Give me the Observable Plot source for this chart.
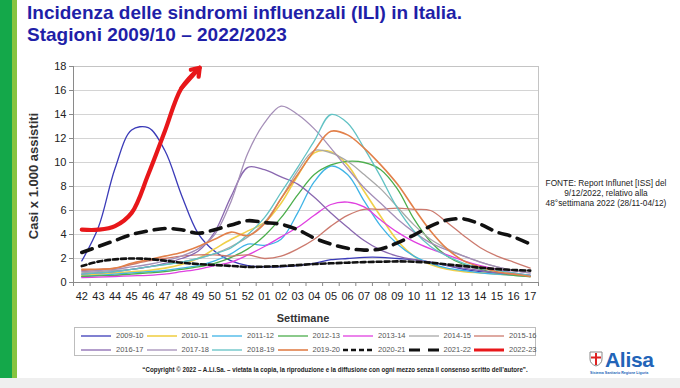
<!DOCTYPE html>
<html><head><meta charset="utf-8">
<script src="https://cdn.jsdelivr.net/npm/d3@7"></script>
<script src="https://cdn.jsdelivr.net/npm/@observablehq/plot@0.6"></script>
<style>
body{margin:0;background:#fff;font-family:"Liberation Sans",Arial,sans-serif;}
#wrap{position:relative;width:680px;height:388px;overflow:hidden;background:#fff;}
#wrap svg.plot{position:absolute;left:0;top:0;}
.abs{position:absolute;white-space:nowrap;}
#title{left:27px;top:2px;font-weight:bold;font-size:19px;line-height:22px;color:#1f1fa8;}
#ylab{left:33px;top:176px;transform:translate(-50%,-50%) rotate(-90deg);font-weight:bold;font-size:13px;color:#333;}
#xlab{left:303px;top:318px;transform:translate(-50%,-50%);font-weight:bold;font-size:11px;color:#333;}
#fonte{left:606px;top:178px;transform:translateX(-50%);font-size:8.3px;line-height:10px;text-align:center;color:#222;}
#legend{left:74px;top:327px;width:462px;height:29px;border:1px solid #bdbdbd;box-sizing:border-box;}
.lent{position:absolute;top:0;height:12px;font-size:7.5px;color:#555;line-height:12px;}
.lent svg{position:absolute;left:0;top:0;}
.lent span{position:absolute;left:36px;top:0;}
#copy{left:335px;top:366px;transform:translateX(-50%) scaleX(0.88);font-size:7px;font-weight:bold;color:#222;}
#bar1{left:0;top:0;width:12px;height:378px;background:#14a84a;}
#bar2{left:12px;top:0;width:5px;height:378px;background:#86c440;}
#strip{left:0;top:378px;width:680px;height:10px;background:#efefef;}
#alisa{left:605px;top:351px;font-weight:bold;font-size:21px;color:#2264b8;line-height:17px;height:17px;letter-spacing:-0.3px;}
#alisasub{left:590px;top:371px;font-size:3.6px;line-height:4px;color:#2264b8;font-weight:bold;}
#shield{left:589px;top:351px;}
</style></head><body><div id="wrap"></div>
<script>
// ---- data ----
const weeks = ["42","43","44","45","46","47","48","49","50","51","52","01","02","03","04","05","06","07","08","09","10","11","12","13","14","15","16","17"];
const yTicks = [0,2,4,6,8,10,12,14,16,18];
const seasons = ["2009-10","2010-11","2011-12","2012-13","2013-14","2014-15","2015-16","2016-17","2017-18","2018-19","2019-20","2020-21","2021-22","2022-23"];

const s0910 = [1.8, 4.6, 9.5, 12.7, 12.9, 11.0, 7.3, 4.1, 2.6, 1.8, 1.4, 1.3, 1.3, 1.4, 1.6, 1.9, 2.0, 2.1, 2.1, 2.0, 1.9, 1.7, 1.4, 1.1, 0.9, 0.8, 0.7, 0.6];
const s1011 = [0.6, 0.7, 0.8, 0.9, 1.0, 1.2, 1.5, 2.0, 2.8, 3.6, 4.3, 5.0, 6.6, 8.9, 10.8, 10.9, 9.8, 7.6, 5.5, 3.5, 2.2, 1.5, 1.1, 0.9, 0.8, 0.7, 0.6, 0.5];
const s1112 = [0.5, 0.6, 0.7, 0.8, 0.9, 1.0, 1.2, 1.4, 1.8, 2.4, 3.2, 3.1, 3.6, 5.8, 8.4, 9.7, 9.0, 6.8, 4.7, 3.2, 2.2, 1.6, 1.2, 1.0, 0.8, 0.7, 0.6, 0.5];
const s1213 = [0.5, 0.55, 0.6, 0.7, 0.8, 0.9, 1.1, 1.3, 1.6, 2.1, 2.8, 3.9, 5.4, 7.3, 9.0, 9.8, 10.1, 10.0, 9.4, 7.8, 5.3, 3.4, 2.2, 1.5, 1.1, 0.8, 0.6, 0.5];
const s1314 = [0.4, 0.45, 0.5, 0.55, 0.6, 0.7, 0.9, 1.1, 1.4, 1.7, 2.3, 3.0, 3.8, 4.6, 5.6, 6.5, 6.7, 6.3, 5.2, 4.2, 3.4, 2.8, 2.3, 1.8, 1.4, 1.1, 0.8, 0.6];
const s1415 = [0.8, 0.9, 1.0, 1.1, 1.3, 1.5, 1.7, 2.0, 2.4, 3.0, 3.8, 5.0, 7.0, 9.3, 11.0, 10.8, 10.1, 9.0, 7.8, 6.3, 4.8, 3.6, 2.8, 2.2, 1.7, 1.3, 1.0, 0.8];
const s1516 = [1.0, 1.1, 1.2, 1.5, 1.8, 2.0, 2.2, 2.3, 2.3, 2.2, 2.3, 2.0, 2.2, 2.8, 3.6, 4.7, 5.6, 6.1, 6.1, 6.2, 6.1, 6.0, 5.0, 3.9, 2.9, 2.2, 1.7, 1.2];
const s1617 = [0.7, 0.8, 0.9, 1.1, 1.3, 1.6, 2.0, 2.6, 4.2, 7.2, 9.6, 9.4, 8.8, 8.2, 7.1, 5.8, 4.6, 3.5, 2.7, 2.2, 1.9, 1.7, 1.4, 1.2, 1.0, 0.8, 0.7, 0.6];
const s1718 = [0.9, 1.0, 1.1, 1.3, 1.5, 1.8, 2.2, 2.8, 4.0, 6.8, 10.8, 13.3, 14.7, 14.0, 12.8, 11.2, 9.5, 7.9, 6.6, 5.3, 4.2, 3.3, 2.7, 2.2, 1.7, 1.3, 1.0, 0.8];
const s1819 = [0.7, 0.8, 0.9, 1.1, 1.3, 1.5, 1.7, 2.0, 2.4, 2.9, 4.0, 5.4, 7.5, 9.6, 11.8, 14.0, 13.3, 11.2, 8.8, 6.2, 4.3, 3.0, 2.2, 1.6, 1.2, 1.0, 0.8, 0.6];
const s1920 = [1.1, 1.1, 1.2, 1.6, 1.9, 2.2, 2.5, 3.0, 3.6, 4.2, 3.9, 4.9, 7.0, 9.0, 11.0, 12.6, 12.3, 11.2, 9.8, 8.2, 6.2, 4.3, 2.8, 1.8, 1.3, 0.9, 0.7, 0.5];
const s2021 = [1.37, 1.74, 1.93, 2.0, 1.96, 1.82, 1.65, 1.54, 1.46, 1.38, 1.3, 1.32, 1.37, 1.45, 1.54, 1.6, 1.65, 1.7, 1.73, 1.76, 1.73, 1.65, 1.5, 1.37, 1.24, 1.12, 1.04, 0.99];
const s2122 = [2.5, 3.0, 3.5, 4.0, 4.3, 4.5, 4.4, 4.1, 4.4, 4.8, 5.15, 5.0, 4.85, 4.4, 3.7, 3.2, 2.85, 2.7, 2.8, 3.3, 3.95, 4.7, 5.2, 5.3, 4.85, 4.2, 3.8, 3.2];
const s2223 = [4.4, 4.4, 4.7, 5.8, 9.0, 12.6, 16.2];
// arrow tip of the 2022-23 curve: position between weeks (index units) and value
const arrowTipPos = 7.1;
const arrowTipValue = 17.9;

const sourceLines = ["FONTE: Report Influnet [ISS] del", "9/12/2022, relativo alla", "48°settimana 2022 (28/11-04/12)"];

// ---- styles (separate from data) ----
const colors = ["#3b3bb8","#f0d04a","#3fb4e6","#4cae4c","#e040e0","#a8a8a8","#cc7a6e","#8a68b0","#a58fb8","#62c2c4","#e2804a","#111","#111","#e8171a"];
const widths = [1.3,1.6,1.3,1.3,1.3,1.3,1.3,1.3,1.3,1.3,1.6,2.6,3.6,4.2];
const dashes = [null,null,null,null,null,null,null,null,null,null,null,"5,3","11,8",null];
const allValues = [s0910,s1011,s1112,s1213,s1314,s1415,s1516,s1617,s1718,s1819,s1920,s2021,s2122,s2223];

const toRows = (arr) => arr.map((v, i) => ({i, v}));

const marks = [
  Plot.gridY(yTicks, {stroke: "#d4d4d4", strokeOpacity: 1}),
  Plot.frame({stroke: "#c4c4c4"}),
  Plot.ruleX([-0.5], {stroke: "#8a8a8a"}),
  Plot.axisY(yTicks, {tickSize: 4, tickPadding: 3, fontSize: 11, fill: "#222", stroke: "#8a8a8a", label: null}),
  Plot.axisX(d3.range(weeks.length), {tickSize: 0, tickPadding: 10, fontSize: 11, fill: "#222", tickFormat: i => weeks[i], label: null}),
  Plot.axisX(d3.range(weeks.length + 1).map(i => i - 0.5), {tickSize: 4, stroke: "#8a8a8a", tickFormat: () => "", label: null}),
  Plot.ruleY([0], {stroke: "#8a8a8a"})
];
for (let k = 0; k < 13; k++) {
  marks.push(Plot.line(toRows(allValues[k]), {x: "i", y: "v", stroke: colors[k], strokeWidth: widths[k], strokeDasharray: dashes[k], curve: "catmull-rom"}));
}
// red 2022-23 with arrow
const redRows = toRows(s2223).concat([{i: arrowTipPos, v: arrowTipValue}]);
marks.push(Plot.line(redRows, {x: "i", y: "v", stroke: colors[13], strokeWidth: widths[13], curve: "catmull-rom"}));
const last = s2223.length - 1;
marks.push(Plot.arrow([{x1: last, y1: s2223[last], x2: arrowTipPos, y2: arrowTipValue}], {x1: "x1", y1: "y1", x2: "x2", y2: "y2", stroke: colors[13], strokeWidth: widths[13], headLength: 16, headAngle: 70}));

const chart = Plot.plot({
  width: 680, height: 388,
  marginLeft: 73, marginRight: 142, marginTop: 66, marginBottom: 106,
  style: {fontFamily: "'Liberation Sans', Arial, sans-serif", fontSize: "11px", background: "transparent", overflow: "visible"},
  x: {domain: [-0.5, weeks.length - 0.5], axis: null},
  y: {domain: [0, 18], axis: null},
  marks
});
chart.classList.add("plot");

const wrap = document.getElementById("wrap");
function el(id, html) { const d = document.createElement("div"); d.className = "abs"; d.id = id; d.innerHTML = html; wrap.appendChild(d); return d; }
el("bar1", ""); el("bar2", ""); el("strip", "");
wrap.appendChild(chart);
el("title", "Incidenza delle sindromi influenzali (ILI) in Italia.<br>Stagioni 2009/10 – 2022/2023");
el("ylab", "Casi x 1.000 assistiti");
el("xlab", "Settimane");
el("fonte", sourceLines.join("<br>"));

// legend built from series arrays
const leg = el("legend", "");
seasons.forEach((s, k) => {
  const row = Math.floor(k / 7), col = k % 7;
  const e = document.createElement("div");
  e.className = "lent";
  e.style.left = (5 + col * 65.5) + "px";
  e.style.top = (2 + row * 14) + "px";
  const dash = dashes[k] ? `stroke-dasharray="${dashes[k]}"` : "";
  e.innerHTML = `<svg width="32" height="12"><line x1="1" y1="6" x2="31" y2="6" stroke="${colors[k]}" stroke-width="${Math.min(widths[k], 3)}" ${dash}/></svg><span>${s}</span>`;
  leg.appendChild(e);
});

el("copy", "“Copyright © 2022 – A.Li.Sa. – vietata la copia, la riproduzione e la diffusione con ogni mezzo senza il consenso scritto dell’autore”.");
el("shield", `<svg width="14" height="16"><path d="M1 1 H13 V8 Q13 13 7 15 Q1 13 1 8 Z" fill="#fff" stroke="#888" stroke-width="1"/><path d="M7 2 V14 M2 6.5 H12" stroke="#d22" stroke-width="2"/></svg>`);
el("alisa", "Alisa");
el("alisasub", "Sistema Sanitario Regione Liguria");
</script></body></html>
